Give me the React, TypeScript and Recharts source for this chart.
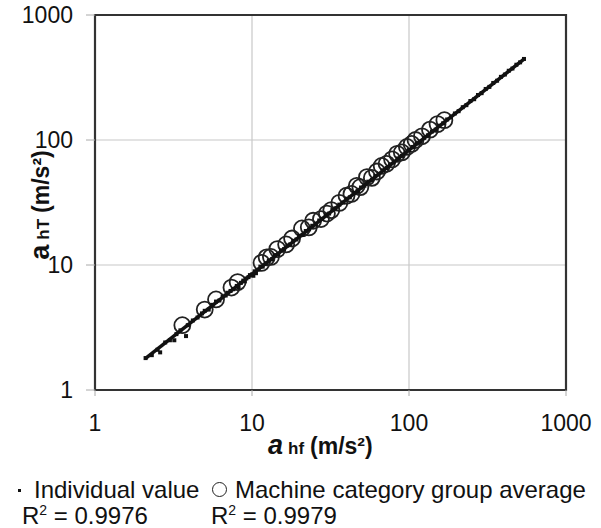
import { ScatterChart, Scatter, XAxis, YAxis, CartesianGrid, ReferenceArea } from 'recharts'

// log-log axes, both 1..1000
const AXIS_TICKS = [1, 10, 100, 1000]

// a_hf vs a_hT, individual measurements (small dots)
const individualValues: [number, number][] = [
  [2.1, 1.8], [2.3, 1.9], [2.5, 2.1], [2.6, 2.0], [2.8, 2.4], [3.0, 2.5], [3.2, 2.5], [3.3, 2.8],
  [3.5, 3.0], [3.8, 2.7], [3.9, 3.3], [4.2, 3.6], [4.5, 3.8], [4.8, 4.1], [5.0, 4.3], [5.3, 4.4],
  [5.6, 4.8], [5.9, 5.1], [6.2, 5.2], [6.5, 5.6], [6.8, 5.7], [7.0, 6.0], [7.3, 6.2], [7.6, 6.4],
  [8.0, 6.8], [8.2, 6.6], [8.5, 7.2], [8.8, 7.5], [9.0, 7.4], [9.2, 7.8], [9.5, 8.0], [9.7, 8.3],
  [10.0, 8.4], [10.2, 8.2], [10.4, 8.9], [10.6, 8.6], [11.0, 9.2], [11.3, 9.7], [11.7, 9.7],
  [12.2, 10.3], [12.8, 10.8], [13.4, 11.1], [14.0, 12.0], [14.7, 12.2], [15.3, 13.1], [16.0, 13.4],
  [16.8, 14.3], [17.5, 14.6], [18.3, 15.6], [19.2, 16.0], [20.0, 17.1], [21.0, 17.4], [22.0, 18.7],
  [23.1, 19.3], [24.2, 20.6], [25.5, 21.1], [26.8, 22.7], [28.0, 23.4], [29.5, 25.0], [31.0, 25.8],
  [32.5, 27.5], [34.0, 28.4], [36.0, 30.4], [38.0, 31.6], [40.0, 33.9], [42.0, 34.8], [44.5, 37.5],
  [47.0, 39.0], [49.5, 41.7], [52.0, 43.1], [55.0, 46.4], [58.0, 47.9], [61.0, 51.4], [64.0, 53.0],
  [68.0, 57.2], [72.0, 59.6], [76.0, 63.8], [80.0, 66.2], [85.0, 71.2], [90.0, 74.6], [95.0, 79.5],
  [100, 83], [106, 88], [112, 94], [118, 97], [125, 104], [132, 109], [140, 117], [148, 121],
  [156, 130], [165, 136], [175, 146], [185, 152], [196, 163], [207, 170], [220, 183], [232, 190],
  [246, 205], [260, 212], [275, 229], [290, 237], [308, 256], [325, 266], [344, 286], [364, 298],
  [385, 320], [408, 334], [432, 358], [456, 373], [483, 400], [510, 418], [540, 445],
]

// machine category group averages (open circles)
const groupAverages: [number, number][] = [
  [3.6, 3.3], [5.0, 4.4], [5.9, 5.3], [7.4, 6.6], [8.1, 7.3], [11.5, 10.4], [12.4, 11.5],
  [13.2, 11.6], [14.5, 13.4], [16.5, 14.6], [18.0, 16.3], [20.8, 19.6], [23.0, 20.0], [24.5, 22.6],
  [27.5, 23.3], [30.0, 25.8], [32.0, 27.5], [36.0, 31.4], [40.0, 35.8], [43.0, 37.0], [46.5, 43.0],
  [49.0, 42.0], [54.0, 50.5], [58.0, 49.8], [62.5, 56.0], [67.0, 62.0], [72.0, 64.5], [78.0, 70.0],
  [84.0, 77.5], [90.0, 79.5], [97.0, 88.0], [104, 93], [110, 100], [121, 107], [136, 121],
  [152, 134], [168, 144],
]

// ends of the fitted power trendline
const trendEnds: [number, number][] = [[2.1, 1.79], [540, 443]]

const toPoints = (rows: [number, number][]) => rows.map(([x, y]) => ({ x, y }))

const FONT = '"Liberation Sans", Arial, sans-serif'

const DotShape = (p: any) => <rect x={p.cx - 2} y={p.cy - 2} width={4} height={4} fill="#111" />
const RingShape = (p: any) => (
  <circle cx={p.cx} cy={p.cy} r={8} fill="none" stroke="#222" strokeWidth={1.8} />
)
const NoShape = () => <g />

const tickStyle = { fill: '#111', fontSize: 23, fontFamily: FONT }
const supStyle = { fontSize: 14, position: 'relative' as const, top: -9, verticalAlign: 'baseline', lineHeight: 0 }

export default function App() {
  return (
    <div style={{ position: 'absolute', left: 0, top: 0, width: 601, height: 528, background: '#fff', fontFamily: FONT, color: '#111' }}>
      <ScatterChart width={601} height={528} margin={{ top: 15, right: 35, bottom: 98, left: 0 }}>
        <CartesianGrid stroke="#c8c8c8" strokeWidth={1.2} />
        <XAxis
          type="number" dataKey="x" scale="log" domain={[1, 1000]} ticks={AXIS_TICKS} allowDataOverflow
          interval={0} height={40} axisLine={false} tickSize={6} tickMargin={19}
          tickLine={{ stroke: '#aaa' }} tick={tickStyle}
        />
        <YAxis
          type="number" dataKey="y" scale="log" domain={[1, 1000]} ticks={AXIS_TICKS} allowDataOverflow
          interval={0} width={95} axisLine={false} tickSize={9} tickMargin={13}
          tickLine={{ stroke: '#aaa' }} tick={tickStyle}
        />
        <Scatter data={toPoints(groupAverages)} shape={RingShape} isAnimationActive={false} />
        <Scatter data={toPoints(individualValues)} shape={DotShape} isAnimationActive={false} />
        <Scatter
          data={toPoints(trendEnds)} line={{ stroke: '#111', strokeWidth: 3.5 }} shape={NoShape}
          isAnimationActive={false}
        />
        <ReferenceArea x1={1} x2={1000} y1={1} y2={1000} fill="none" stroke="#333" strokeWidth={2.2} ifOverflow="visible" />
      </ScatterChart>

      {/* x axis title */}
      <div style={{ position: 'absolute', left: 268, top: 432, fontWeight: 'bold', whiteSpace: 'nowrap', lineHeight: 1 }}>
        <span style={{ fontSize: 27, fontStyle: 'italic' }}>a</span>
        <span style={{ fontSize: 17, marginLeft: 5 }}>hf</span>
        <span style={{ fontSize: 23, marginLeft: 6 }}>(m/s²)</span>
      </div>

      {/* y axis title */}
      <div
        style={{
          position: 'absolute', left: 40, top: 205, fontWeight: 'bold', whiteSpace: 'nowrap', lineHeight: 1,
          transform: 'translate(-50%, -50%) rotate(-90deg)',
        }}
      >
        <span style={{ fontSize: 27 }}>a</span>
        <span style={{ fontSize: 17, marginLeft: 5 }}>hT</span>
        <span style={{ fontSize: 23, marginLeft: 6 }}>(m/s²)</span>
      </div>

      {/* legend */}
      <div style={{ position: 'absolute', left: 0, top: 477, width: 601, height: 51, fontSize: 24, lineHeight: 1 }}>
        <div style={{ position: 'absolute', left: 18, top: 12, width: 3, height: 3, background: '#111' }} />
        <div style={{ position: 'absolute', left: 34, top: 1, whiteSpace: 'nowrap' }}>Individual value</div>
        <div style={{ position: 'absolute', left: 212, top: 5, width: 15, height: 15, borderRadius: '50%', border: '1.6px solid #222', boxSizing: 'border-box' }} />
        <div style={{ position: 'absolute', left: 235, top: 1, whiteSpace: 'nowrap' }}>Machine category group average</div>
        <div style={{ position: 'absolute', left: 22, top: 27, whiteSpace: 'nowrap' }}>R<span style={supStyle}>2</span> = 0.9976</div>
        <div style={{ position: 'absolute', left: 211, top: 27, whiteSpace: 'nowrap' }}>R<span style={supStyle}>2</span> = 0.9979</div>
      </div>
    </div>
  )
}
